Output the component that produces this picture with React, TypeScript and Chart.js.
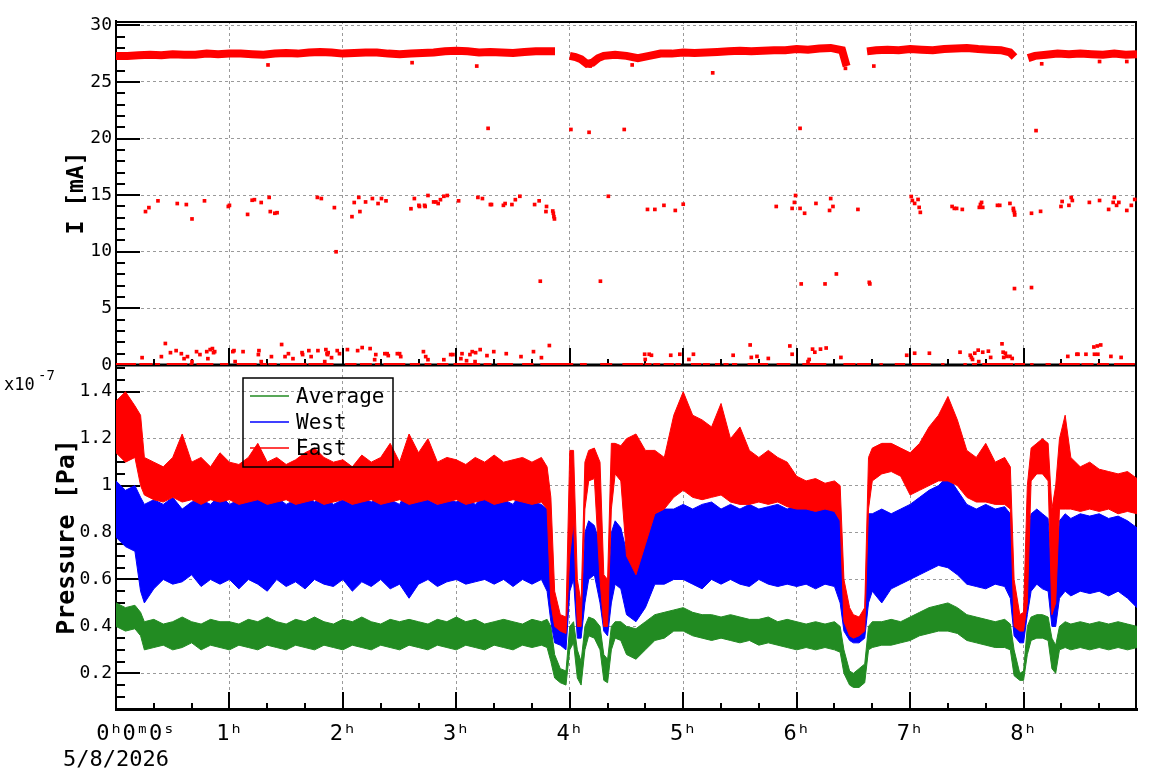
import { useEffect, useRef } from 'react';
import Chart from 'chart.js/auto';

const MONO = '"DejaVu Sans Mono", "Liberation Mono", monospace';
const RED = '#ff0000';
const BLUE = '#0000ff';
const GREEN = '#228b22';

// ---------- axes / labels ----------
const X_TICKS = [0, 1, 2, 3, 4, 5, 6, 7, 8];
const X_TICK_LABELS = ['   0ʰ0ᵐ0ˢ', '1ʰ', '2ʰ', '3ʰ', '4ʰ', '5ʰ', '6ʰ', '7ʰ', '8ʰ'];
const DATE_LABEL = '5/8/2026';
const I_TICKS = [0, 5, 10, 15, 20, 25, 30];
const P_TICKS = [0.2, 0.4, 0.6, 0.8, 1.0, 1.2, 1.4];
const SERIES_NAMES = ['Average', 'West', 'East'];

// ---------- pressure (x1e-7 Pa): sample times in minutes, noise band low / high ----------
const P_TIME = [
  0, 5, 10, 13, 15, 20, 25, 30, 35, 40,
  45, 50, 55, 60, 65, 70, 75, 80, 85, 90,
  95, 100, 105, 110, 115, 120, 125, 130, 135, 140,
  145, 150, 155, 160, 165, 170, 175, 180, 185, 190,
  195, 200, 205, 210, 215, 220, 225, 228, 230, 232,
  235, 238, 240, 242, 244, 246, 248, 250, 253, 256,
  258, 260, 262, 264, 267, 270, 275, 280, 285, 290,
  295, 300, 305, 310, 315, 320, 325, 330, 335, 340,
  345, 350, 355, 360, 365, 370, 375, 380, 383, 385,
  388, 390, 393, 396, 398, 400, 405, 410, 415, 420,
  425, 430, 435, 440, 445, 450, 455, 460, 465, 470,
  473, 475, 478, 480, 482, 484, 487, 490, 493, 495,
  497, 499, 502, 505, 510, 515, 520, 525, 530, 535,
  540,
];
const AVG_LO = [
  0.40, 0.38, 0.39, 0.36, 0.30, 0.31, 0.32, 0.30, 0.31, 0.33,
  0.30, 0.32, 0.31, 0.30, 0.32, 0.31, 0.30, 0.32, 0.31, 0.30,
  0.32, 0.31, 0.30, 0.32, 0.31, 0.30, 0.32, 0.31, 0.30, 0.32,
  0.31, 0.30, 0.32, 0.31, 0.30, 0.32, 0.31, 0.30, 0.32, 0.31,
  0.30, 0.32, 0.31, 0.30, 0.32, 0.31, 0.32, 0.31, 0.25, 0.18,
  0.16, 0.15, 0.30, 0.33, 0.18, 0.15, 0.30, 0.36, 0.35, 0.30,
  0.17, 0.16, 0.30, 0.35, 0.34, 0.28, 0.26, 0.30, 0.34, 0.35,
  0.38, 0.38, 0.36, 0.35, 0.34, 0.35, 0.34, 0.33, 0.34, 0.32,
  0.33, 0.32, 0.31, 0.30, 0.31, 0.30, 0.31, 0.30, 0.29, 0.20,
  0.15, 0.14, 0.14, 0.16, 0.30, 0.31, 0.32, 0.32, 0.33, 0.34,
  0.36, 0.37, 0.38, 0.38, 0.37, 0.34, 0.33, 0.32, 0.31, 0.31,
  0.30, 0.19, 0.17, 0.17, 0.28, 0.34, 0.35, 0.35, 0.34, 0.22,
  0.20, 0.30, 0.31, 0.30, 0.31, 0.30, 0.31, 0.30, 0.31, 0.30,
  0.31,
];
const AVG_HI = [
  0.50, 0.48, 0.49, 0.46, 0.42, 0.43, 0.41, 0.42, 0.44, 0.42,
  0.41, 0.43, 0.42, 0.42, 0.41, 0.43, 0.42, 0.44, 0.42, 0.41,
  0.43, 0.42, 0.44, 0.42, 0.41, 0.43, 0.42, 0.44, 0.42, 0.41,
  0.43, 0.42, 0.43, 0.42, 0.41, 0.43, 0.42, 0.44, 0.42, 0.43,
  0.41, 0.42, 0.43, 0.42, 0.41, 0.43, 0.42, 0.43, 0.40, 0.28,
  0.22, 0.21, 0.40, 0.42, 0.30, 0.25, 0.40, 0.44, 0.43, 0.40,
  0.28, 0.26, 0.40, 0.42, 0.42, 0.40, 0.39, 0.42, 0.45, 0.46,
  0.47, 0.48, 0.46, 0.45, 0.45, 0.44, 0.45, 0.44, 0.43, 0.43,
  0.44, 0.42, 0.43, 0.42, 0.41, 0.42, 0.41, 0.42, 0.40, 0.30,
  0.21, 0.20, 0.22, 0.24, 0.40, 0.42, 0.42, 0.43, 0.42, 0.44,
  0.46, 0.48, 0.49, 0.50, 0.48, 0.45, 0.44, 0.43, 0.42, 0.43,
  0.41, 0.30, 0.20, 0.21, 0.40, 0.44, 0.45, 0.45, 0.44, 0.35,
  0.32, 0.40, 0.42, 0.41, 0.42, 0.41, 0.42, 0.41, 0.42, 0.41,
  0.40,
];
const WEST_LO = [
  0.78, 0.74, 0.72, 0.55, 0.50, 0.56, 0.60, 0.58, 0.59, 0.62,
  0.57, 0.60, 0.58, 0.60, 0.56, 0.60, 0.58, 0.55, 0.60, 0.57,
  0.59, 0.56, 0.60, 0.58, 0.57, 0.60, 0.55, 0.59, 0.57, 0.60,
  0.56, 0.58, 0.52, 0.58, 0.60, 0.57, 0.59, 0.60, 0.58, 0.59,
  0.60, 0.58, 0.60, 0.57, 0.60, 0.58, 0.60, 0.55, 0.42, 0.33,
  0.32, 0.30, 0.55, 0.60, 0.35, 0.35, 0.50, 0.60, 0.62, 0.50,
  0.38, 0.36, 0.50, 0.58, 0.56, 0.45, 0.42, 0.48, 0.58, 0.58,
  0.60, 0.60, 0.58, 0.56, 0.60, 0.58, 0.60, 0.58, 0.57, 0.60,
  0.58, 0.57, 0.58, 0.57, 0.58, 0.56, 0.58, 0.57, 0.50, 0.38,
  0.34, 0.33, 0.33, 0.35, 0.50, 0.55, 0.50, 0.56, 0.58, 0.60,
  0.62, 0.64, 0.66, 0.65, 0.62, 0.58, 0.57, 0.56, 0.58, 0.57,
  0.52, 0.36, 0.33, 0.33, 0.45, 0.55, 0.58, 0.56, 0.55, 0.40,
  0.40, 0.52, 0.55, 0.53, 0.55, 0.54, 0.55, 0.53, 0.55, 0.52,
  0.48,
];
const WEST_HI = [
  1.02, 0.98, 1.00, 0.95, 0.92, 0.94, 0.92, 0.95, 0.90, 0.93,
  0.94, 0.92, 0.96, 0.92, 0.94, 0.93, 0.97, 0.93, 0.95, 0.92,
  0.94, 0.97, 0.93, 0.95, 0.92, 0.94, 0.92, 0.95, 0.93, 0.96,
  0.94, 0.92, 1.00, 0.95, 0.94, 0.92, 0.94, 0.93, 0.95, 0.92,
  0.96, 0.93, 0.94, 0.92, 0.98, 0.93, 0.92, 0.90, 0.70, 0.50,
  0.42, 0.40, 0.82, 0.85, 0.48, 0.45, 0.80, 0.85, 0.83, 0.75,
  0.55, 0.52, 0.80, 0.85, 0.82, 0.72, 0.70, 0.80, 0.88, 0.90,
  0.90, 0.92, 0.90, 0.92, 0.93, 0.90, 0.92, 0.90, 0.92, 0.90,
  0.91, 0.92, 0.90, 0.92, 0.90, 0.91, 0.92, 0.90, 0.85, 0.55,
  0.44, 0.42, 0.42, 0.45, 0.88, 0.88, 0.90, 0.88, 0.90, 0.92,
  0.95, 0.98, 1.00, 1.04, 0.98, 0.92, 0.90, 0.92, 0.90, 0.91,
  0.88, 0.50, 0.40, 0.41, 0.80, 0.88, 0.90, 0.88, 0.86, 0.60,
  0.65, 0.85, 0.88, 0.86, 0.88, 0.87, 0.88, 0.86, 0.87, 0.85,
  0.82,
];
const EAST_LO = [
  1.14, 1.10, 1.12, 1.00, 0.96, 0.94, 0.93, 0.95, 0.93, 0.94,
  0.92, 0.94, 0.93, 0.94, 0.92, 0.93, 0.94, 0.92, 0.93, 0.94,
  0.92, 0.93, 0.94, 0.92, 0.93, 0.94, 0.92, 0.93, 0.94, 0.92,
  0.93, 0.94, 0.92, 0.93, 0.94, 0.92, 0.93, 0.94, 0.92, 0.93,
  0.94, 0.92, 0.93, 0.94, 0.93, 0.92, 0.93, 0.90, 0.50, 0.40,
  0.38, 0.37, 0.70, 0.85, 0.40, 0.40, 0.90, 1.02, 1.03, 0.60,
  0.40, 0.40, 0.90, 1.05, 1.02, 0.70, 0.62, 0.75, 0.88, 0.90,
  0.95, 0.98, 0.95, 0.94, 0.95, 0.96, 0.93, 0.92, 0.92, 0.93,
  0.92, 0.93, 0.91, 0.90, 0.90, 0.89, 0.90, 0.89, 0.85, 0.42,
  0.36, 0.35, 0.36, 0.38, 0.90, 1.02, 1.05, 1.06, 1.04, 0.96,
  0.98, 1.00, 1.02, 1.02, 1.00, 0.95, 0.93, 0.93, 0.92, 0.92,
  0.90, 0.40, 0.38, 0.38, 0.50, 1.02, 1.05, 1.05, 1.02, 0.45,
  0.50, 0.90, 0.90, 0.90, 0.89, 0.90, 0.89, 0.90, 0.88, 0.89,
  0.88,
];
const EAST_HI = [
  1.36, 1.40, 1.34, 1.30, 1.12, 1.10, 1.08, 1.12, 1.22, 1.10,
  1.12, 1.08, 1.14, 1.10, 1.09, 1.12, 1.18, 1.10, 1.12, 1.09,
  1.11, 1.14, 1.16, 1.12, 1.10, 1.11, 1.08, 1.13, 1.10, 1.12,
  1.18, 1.10, 1.22, 1.14, 1.20, 1.10, 1.12, 1.11, 1.09, 1.12,
  1.10, 1.13, 1.10, 1.11, 1.12, 1.10, 1.12, 1.08, 0.95, 0.55,
  0.45, 0.44, 1.15, 1.15, 0.60, 0.50, 1.10, 1.15, 1.16, 1.10,
  0.62, 0.60, 1.18, 1.18, 1.17, 1.20, 1.22, 1.15, 1.15, 1.12,
  1.30, 1.40, 1.30, 1.28, 1.25, 1.35, 1.20, 1.25, 1.15, 1.12,
  1.15, 1.12, 1.10, 1.04, 1.02, 1.03, 1.01, 1.02, 1.00, 0.60,
  0.48, 0.45, 0.44, 0.48, 1.12, 1.16, 1.18, 1.18, 1.16, 1.14,
  1.18, 1.25, 1.30, 1.38, 1.28, 1.15, 1.12, 1.18, 1.10, 1.12,
  1.08, 0.60, 0.45, 0.46, 1.00, 1.16, 1.18, 1.20, 1.18, 0.90,
  1.00, 1.20, 1.30, 1.12, 1.08, 1.10, 1.07, 1.06, 1.05, 1.06,
  1.03,
];

// ---------- beam current I [mA] (times in hours) ----------
const I_TIME = [
  0, 0.1, 0.2, 0.3, 0.4, 0.5, 0.6, 0.7, 0.8, 0.9,
  1.0, 1.1, 1.2, 1.3, 1.4, 1.5, 1.6, 1.7, 1.8, 1.9,
  2.0, 2.1, 2.2, 2.3, 2.4, 2.5, 2.6, 2.7, 2.8, 2.9,
  3.0, 3.1, 3.2, 3.3, 3.4, 3.5, 3.6, 3.7, 3.8, 3.87,
  3.93, 4.0, 4.05, 4.1, 4.15, 4.2, 4.25, 4.3, 4.4, 4.5,
  4.6, 4.7, 4.8, 4.9, 5.0, 5.1, 5.2, 5.3, 5.4, 5.5,
  5.6, 5.7, 5.8, 5.9, 6.0, 6.1, 6.2, 6.3, 6.4, 6.44,
  6.52, 6.62, 6.7, 6.8, 6.9, 7.0, 7.1, 7.2, 7.3, 7.4,
  7.5, 7.6, 7.7, 7.8, 7.88, 7.92, 7.98, 8.04, 8.1, 8.2,
  8.3, 8.4, 8.5, 8.6, 8.7, 8.8, 8.9, 9.0,
];
const I_MAIN = [
  27.3, 27.3, 27.35, 27.4, 27.35, 27.45, 27.4, 27.4, 27.5, 27.45,
  27.5, 27.5, 27.45, 27.4, 27.5, 27.55, 27.5, 27.6, 27.65, 27.6,
  27.5, 27.55, 27.6, 27.6, 27.5, 27.45, 27.5, 27.55, 27.6, 27.7,
  27.75, 27.7, 27.6, 27.65, 27.6, 27.55, 27.65, 27.7, 27.7, 27.7,
  null, 27.3, 27.2, 27.0, 26.6, 26.7, 27.1, 27.3, 27.4, 27.3,
  27.1, 27.3, 27.5, 27.5, 27.6, 27.55, 27.6, 27.65, 27.7, 27.75,
  27.7, 27.75, 27.8, 27.8, 27.9, 27.85, 27.95, 28.0, 27.8, 26.4,
  null, 27.7, 27.8, 27.85, 27.8, 27.9, 27.85, 27.8, 27.9, 27.95,
  28.0, 27.9, 27.85, 27.8, 27.6, 27.2, null, 27.1, 27.3, 27.4,
  27.5, 27.45, 27.5, 27.45, 27.4, 27.5, 27.4, 27.45,
];
// scattered readings away from the main beam line
const OUT_T = [
  // around 14 mA
  0.26, 0.29, 0.37, 0.54, 0.62, 0.67, 0.78, 0.99, 1.0, 1.16, 1.2, 1.22, 1.28, 1.35, 1.36, 1.4, 1.42,
  1.775, 1.81, 1.925, 1.94, 2.08, 2.1, 2.14, 2.15, 2.2, 2.26, 2.31, 2.34, 2.38, 2.6, 2.63, 2.67, 2.675,
  2.72, 2.725, 2.75, 2.8, 2.82, 2.84, 2.86, 2.89, 2.92, 3.02, 3.19, 3.23, 3.3, 3.31, 3.415, 3.43, 3.49,
  3.52, 3.56, 3.69, 3.73, 3.79, 3.795, 3.85, 3.855, 3.86, 3.865, 4.34, 4.685, 4.75, 4.83, 4.93, 5.0,
  5.82, 5.96, 5.98, 5.99, 6.03, 6.07, 6.17, 6.29, 6.3, 6.32, 6.54, 7.01, 7.02, 7.04, 7.07, 7.08, 7.09,
  7.37, 7.39, 7.41, 7.46, 7.61, 7.62, 7.63, 7.64, 7.77, 7.79, 7.88, 7.91, 7.912, 7.92, 7.922, 8.07,
  8.15, 8.33, 8.34, 8.4, 8.42, 8.43, 8.58, 8.67, 8.75, 8.79, 8.8, 8.82, 8.84, 8.91, 8.95, 8.98,
  // around 20.8 mA
  3.28, 4.01, 4.17, 4.48, 6.03, 8.11,
  // around 7 mA
  3.74, 4.27, 6.04, 6.25, 6.35, 6.64, 6.645, 7.92, 8.07,
  // dips below the beam line
  1.34, 2.61, 3.18, 4.18, 4.55, 5.26, 6.43, 6.68, 8.16, 8.67, 8.91,
  // near 1 mA
  0.23, 0.4, 0.435, 0.48, 0.53, 0.576, 0.6, 0.63, 0.67, 0.71, 0.74, 0.8, 0.81, 0.83, 0.85, 0.86, 0.87,
  1.03, 1.04, 1.05, 1.12, 1.26, 1.255, 1.28, 1.37, 1.46, 1.49, 1.52, 1.56, 1.64, 1.645, 1.7, 1.72,
  1.78, 1.84, 1.85, 1.86, 1.865, 1.87, 1.9, 1.95, 1.97, 2.04, 2.13, 2.17, 2.24, 2.28, 2.29, 2.37,
  2.39, 2.4, 2.48, 2.5, 2.51, 2.71, 2.73, 2.75, 2.89, 2.95, 2.97, 3.04, 3.05, 3.09, 3.12, 3.14,
  3.165, 3.17, 3.21, 3.27, 3.33, 3.44, 3.57, 3.68, 3.75, 3.82,
  4.66, 4.665, 4.7, 4.72, 4.89, 4.97, 5.05, 5.09, 5.44, 5.59, 5.6, 5.65, 5.75, 5.94, 5.96, 6.1,
  6.11, 6.14, 6.16, 6.21, 6.26, 6.39, 6.97, 7.04, 7.17, 7.44, 7.53, 7.54, 7.55, 7.57, 7.6, 7.605,
  7.64, 7.69, 7.71, 7.81, 7.82, 7.825, 7.84, 7.85, 7.88, 7.9, 8.39, 8.47, 8.48, 8.55, 8.62, 8.625,
  8.65, 8.655, 8.68, 8.77, 8.86,
];
const OUT_V = [
  13.55, 13.9, 14.5, 14.26, 14.17, 12.9, 14.5, 14.0, 14.1, 13.3, 14.55, 14.6, 14.35, 14.8, 13.55, 13.4, 13.45,
  14.8, 14.7, 13.9, 10.0, 13.1, 14.35, 14.8, 13.55, 14.4, 14.7, 14.26, 14.7, 14.5, 13.8, 14.7, 14.1, 14.0,
  14.1, 14.0, 14.97, 14.4, 14.4, 14.26, 14.6, 14.9, 14.97, 14.5, 14.8, 14.7, 14.17, 14.17, 14.1, 14.26, 14.17,
  14.6, 14.9, 14.17, 14.5, 13.55, 14.0, 13.6, 13.4, 13.1, 12.9, 14.9, 13.74, 13.74, 14.1, 13.65, 14.2,
  14.0, 13.83, 14.36, 14.97, 13.83, 13.4, 14.27, 13.65, 14.7, 14.0, 13.74, 14.88, 14.53, 14.27, 14.62, 13.92, 13.48,
  14.0, 13.83, 13.83, 13.74, 13.92, 14.18, 14.36, 13.92, 14.1, 14.1, 14.27, 13.83, 13.65, 13.48, 13.25, 13.4,
  13.57, 14.0, 14.44, 14.1, 14.8, 14.53, 14.36, 14.53, 13.74, 14.36, 14.8, 14.1, 14.36, 13.65, 14.1, 14.62,
  20.9, 20.8, 20.55, 20.8, 20.9, 20.7,
  7.4, 7.4, 7.16, 7.16, 8.04, 7.3, 7.16, 6.75, 6.84,
  26.5, 26.7, 26.4, 26.4, 26.5, 25.8, 26.2, 26.4, 26.6, 26.8, 26.8,
  0.65, 0.74, 1.9, 1.09, 1.27, 1.0, 0.56, 0.74, 0.3, 1.18, 0.92, 1.18, 0.56, 1.36, 1.45, 1.09, 1.18,
  1.18, 1.27, 0.3, 1.18, 1.27, 0.92, 0.3, 0.74, 1.81, 0.74, 1.0, 0.56, 1.09, 0.92, 1.27, 0.74,
  1.27, 0.3, 1.36, 1.0, 0.92, 1.09, 0.65, 1.27, 1.0, 1.36, 1.27, 1.54, 1.45, 0.47, 0.92, 1.0,
  1.0, 0.83, 1.0, 1.0, 0.74, 1.18, 0.74, 0.47, 0.47, 0.92, 0.92, 0.56, 1.0, 0.38, 0.92, 1.18,
  0.3, 1.09, 1.36, 0.83, 1.18, 1.0, 0.74, 1.18, 0.65, 1.72,
  0.95, 0.49, 0.95, 0.86, 0.86, 0.95, 0.49, 0.95, 0.86, 1.77, 0.67, 0.76, 0.58, 1.68, 0.95, 0.3,
  0.49, 1.4, 1.13, 1.4, 1.5, 0.67, 0.86, 1.04, 1.04, 1.13, 0.86, 0.67, 0.49, 1.04, 1.31, 0.3,
  1.13, 1.22, 0.67, 1.87, 1.13, 0.67, 1.04, 0.76, 0.76, 0.58, 0.76, 0.95, 0.95, 0.95, 1.59, 0.95,
  1.68, 0.95, 1.77, 0.76, 0.67,
];
// stretches where I reads 0 mA (hours)
const ZERO_START = [
  0, 0.206, 0.344, 0.447, 0.647, 0.71, 0.917, 1.064, 1.27, 1.343, 1.446, 1.696, 2.02, 2.15, 2.284,
  2.358, 2.59, 2.72, 2.83, 2.975, 3.24, 3.36, 3.58, 3.74, 4.09, 4.268, 4.464, 4.66, 4.736, 4.827,
  4.932, 5.068, 5.174, 5.28, 5.355, 5.43, 5.567, 5.824, 6.05, 6.412, 6.533, 6.73, 6.865, 7.016,
  7.273, 7.47, 7.545, 7.636, 7.922, 8.058, 8.194, 8.315, 8.511, 8.647, 8.798,
];
const ZERO_END = [
  0.176, 0.323, 0.388, 0.629, 0.682, 0.858, 0.99, 1.24, 1.33, 1.417, 1.681, 1.917, 2.12, 2.255, 2.328,
  2.55, 2.68, 2.78, 2.93, 3.21, 3.31, 3.5, 3.68, 4.03, 4.15, 4.374, 4.646, 4.72, 4.797, 4.917,
  4.978, 5.159, 5.235, 5.325, 5.4, 5.476, 5.748, 5.944, 6.261, 6.518, 6.654, 6.76, 6.956, 7.182,
  7.303, 7.5, 7.59, 7.907, 8.013, 8.088, 8.24, 8.496, 8.617, 8.753, 8.98,
];

const X_MIN = 0;
const X_MAX = 9;
const I_MIN = 0;
const I_MAX = 30.38;
const P_MIN = 0.048;
const P_MAX = 1.514;

function band(lo: number[], hi: number[]) {
  return {
    lo: P_TIME.map((t, i) => ({ x: t / 60, y: lo[i] })),
    hi: P_TIME.map((t, i) => ({ x: t / 60, y: hi[i] })),
  };
}

const decorPlugin = {
  id: 'rootDecor',
  beforeDatasetsDraw(chart: any) {
    const { ctx, chartArea: ca, scales } = chart;
    const x = scales.x;
    const yI = scales.yI;
    const yP = scales.yP;
    const seg = (x1: number, y1: number, x2: number, y2: number, w: number) => {
      ctx.lineWidth = w;
      ctx.beginPath();
      ctx.moveTo(x1, y1);
      ctx.lineTo(x2, y2);
      ctx.stroke();
    };
    ctx.save();
    ctx.strokeStyle = '#000';
    ctx.setLineDash([]);
    seg(ca.left, yI.top + 1, ca.right, yI.top + 1, 2);
    seg(ca.right - 1, yI.top, ca.right - 1, ca.bottom, 2);
    seg(ca.left, yI.bottom, ca.right, yI.bottom, 3);
    for (let m = 0; m < 540; m += 20) {
      const px = Math.round(x.getPixelForValue(m / 60));
      const len = m % 60 === 0 ? 17 : 6;
      seg(px, yI.bottom, px, yI.bottom - len, 2);
      seg(px, yP.bottom, px, yP.bottom - len, 2);
    }
    for (let v = 0; v <= 30; v++) {
      const py = Math.round(yI.getPixelForValue(v));
      seg(ca.left, py, ca.left + (v % 5 === 0 ? 24 : 9), py, 2);
    }
    for (let k = 1; k * 0.05 <= P_MAX; k++) {
      const py = Math.round(yP.getPixelForValue(k * 0.05));
      seg(ca.left, py, ca.left + (k % 4 === 0 ? 24 : 9), py, 2);
    }
    ctx.restore();
  },
  afterDatasetsDraw(chart: any) {
    const { ctx, chartArea: ca } = chart;
    const lx = ca.left + 127;
    const ly = 378;
    const lw = 150;
    const lh = 89;
    const colors = [GREEN, BLUE, RED];
    ctx.save();
    ctx.setLineDash([]);
    ctx.strokeStyle = '#000';
    ctx.lineWidth = 1.5;
    ctx.strokeRect(lx, ly, lw, lh);
    ctx.font = `21px ${MONO}`;
    ctx.textBaseline = 'alphabetic';
    ctx.textAlign = 'left';
    SERIES_NAMES.forEach((name, i) => {
      const yy = ly + 18 + i * 26;
      ctx.strokeStyle = colors[i];
      ctx.lineWidth = 1.5;
      ctx.beginPath();
      ctx.moveTo(lx + 7, yy);
      ctx.lineTo(lx + 46, yy);
      ctx.stroke();
      ctx.fillStyle = '#000';
      ctx.fillText(name, lx + 53, yy + 7);
    });
    ctx.restore();
  },
  afterDraw(chart: any) {
    const { ctx } = chart;
    ctx.save();
    ctx.fillStyle = '#000';
    ctx.textBaseline = 'alphabetic';
    ctx.textAlign = 'left';
    ctx.font = `17px ${MONO}`;
    ctx.fillText('x10', 4, 390);
    ctx.font = `14px ${MONO}`;
    ctx.fillText('-7', 38, 380);
    ctx.restore();
  },
};

export default function App() {
  const ref = useRef<HTMLCanvasElement | null>(null);
  useEffect(() => {
    if (!ref.current) return;
    const avg = band(AVG_LO, AVG_HI);
    const west = band(WEST_LO, WEST_HI);
    const east = band(EAST_LO, EAST_HI);
    const zeroPts: any[] = [];
    ZERO_START.forEach((s, i) => {
      zeroPts.push({ x: s, y: 0 }, { x: ZERO_END[i], y: 0 }, { x: ZERO_END[i], y: null });
    });
    const mainPts = I_TIME.map((t, i) => ({ x: t, y: I_MAIN[i] }));
    const outPts = OUT_T.map((t, i) => ({ x: t, y: OUT_V[i] }));
    const bandDs = (data: any[], color: string, order: number, fill: any) => ({
      data,
      yAxisID: 'yP',
      borderColor: color,
      backgroundColor: color,
      borderWidth: 1,
      pointRadius: 0,
      fill,
      order,
      tension: 0,
    });
    const chart = new Chart(ref.current, {
      type: 'line',
      data: {
        datasets: [
          bandDs(east.lo, RED, 1, false),
          bandDs(east.hi, RED, 1, 0),
          bandDs(west.lo, BLUE, 2, false),
          bandDs(west.hi, BLUE, 2, 2),
          bandDs(avg.lo, GREEN, 3, false),
          bandDs(avg.hi, GREEN, 3, 4),
          {
            data: zeroPts,
            yAxisID: 'yI',
            borderColor: RED,
            borderWidth: 4,
            pointRadius: 0,
            fill: false,
            spanGaps: false,
            order: 0,
          },
          {
            data: mainPts,
            yAxisID: 'yI',
            borderColor: RED,
            borderWidth: 8,
            pointRadius: 0,
            fill: false,
            spanGaps: false,
            order: 0,
          },
          {
            data: outPts,
            yAxisID: 'yI',
            showLine: false,
            pointStyle: 'rect',
            pointRadius: 2.6,
            pointBorderWidth: 0,
            pointBackgroundColor: RED,
            pointBorderColor: RED,
            order: 0,
          },
        ] as any,
      },
      options: {
        responsive: false,
        devicePixelRatio: 1,
        animation: false,
        events: [],
        layout: { padding: { top: 21, right: 21, left: 0, bottom: 0 } },
        plugins: { legend: { display: false }, tooltip: { enabled: false } },
        scales: {
          x: {
            type: 'linear',
            position: 'bottom',
            min: X_MIN,
            max: X_MAX,
            afterBuildTicks: (s: any) => {
              s.ticks = X_TICKS.map((v) => ({ value: v }));
            },
            afterFit: (s: any) => {
              s.height = 73;
            },
            ticks: {
              autoSkip: false,
              maxRotation: 0,
              padding: 12,
              color: '#000',
              font: { family: MONO, size: 22 },
              callback: (v: any) => {
                const i = X_TICKS.indexOf(Number(v));
                return i === 0 ? [X_TICK_LABELS[0], DATE_LABEL] : X_TICK_LABELS[i];
              },
            },
            grid: { color: '#9a9a9a', lineWidth: 1, drawTicks: false },
            border: { display: true, color: '#000', width: 3, dash: [3, 3] },
          },
          yI: {
            type: 'linear',
            position: 'left',
            stack: 'panels',
            stackWeight: 1,
            weight: 1,
            min: I_MIN,
            max: I_MAX,
            afterBuildTicks: (s: any) => {
              s.ticks = I_TICKS.map((v) => ({ value: v }));
            },
            afterFit: (s: any) => {
              s.width = 116;
            },
            ticks: {
              padding: 4,
              color: '#000',
              font: { family: MONO, size: 18 },
              callback: (v: any) => String(v),
            },
            title: {
              display: true,
              text: 'I [mA]',
              color: '#000',
              font: { family: MONO, size: 23, weight: 'bold' },
              padding: { top: 63, bottom: 0 },
            },
            grid: { color: '#9a9a9a', lineWidth: 1, drawTicks: false },
            border: { display: true, color: '#000', width: 2, dash: [3, 3] },
          },
          yP: {
            type: 'linear',
            position: 'left',
            stack: 'panels',
            stackWeight: 1,
            weight: 0,
            min: P_MIN,
            max: P_MAX,
            afterBuildTicks: (s: any) => {
              s.ticks = P_TICKS.map((v) => ({ value: v }));
            },
            afterFit: (s: any) => {
              s.width = 116;
            },
            ticks: {
              padding: 4,
              color: '#000',
              font: { family: MONO, size: 18 },
              callback: (v: any) => String(Math.round(Number(v) * 10) / 10),
            },
            title: {
              display: true,
              text: 'Pressure [Pa]',
              color: '#000',
              font: { family: MONO, size: 25, weight: 'bold' },
              padding: { top: 52, bottom: 0 },
            },
            grid: { color: '#9a9a9a', lineWidth: 1, drawTicks: false },
            border: { display: true, color: '#000', width: 2, dash: [3, 3] },
          },
        } as any,
      },
      plugins: [decorPlugin],
    });
    return () => chart.destroy();
  }, []);
  return (
    <div style={{ position: 'fixed', left: 0, top: 0, width: 1158, height: 782, background: '#fff' }}>
      <canvas ref={ref} width={1158} height={782} style={{ display: 'block', width: 1158, height: 782 }} />
    </div>
  );
}
